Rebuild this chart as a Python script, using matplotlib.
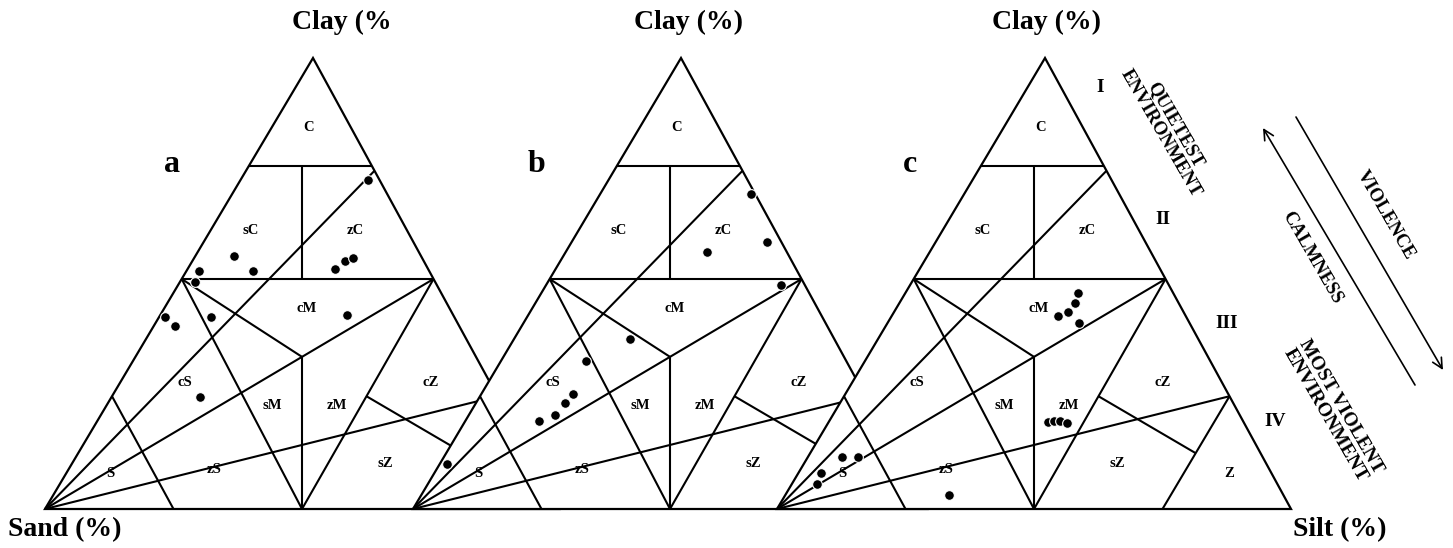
import matplotlib
matplotlib.use("Agg")
import matplotlib.pyplot as plt
from matplotlib.patches import Polygon

W_PX, H_PX = 1453, 548
plt.rcParams['font.family'] = ['Liberation Serif', 'DejaVu Serif']

# ---------------- data (percent) ----------------
panel_names = ['a', 'b', 'c']

a_sand = [2.2, 36.5, 44.7, 34.3, 18.2, 15.4, 13.4, 46.7, 56.3, 55.2, 47.3, 20.7, 57.9]
a_silt = [24.9, 7.5, 2.5, 12.9, 28.6, 29.6, 31.0, 3.0, 1.1, 4.2, 10.1, 36.3, 17.2]
a_clay = [72.9, 56.0, 52.8, 52.8, 53.2, 55.0, 55.6, 50.3, 42.6, 40.6, 42.6, 43.0, 24.9]

b_sand = [0.8, 2.8, 15.6, 4.6, 39.8, 50.5, 56.7, 59.2, 62.4, 66.2, 88.6]
b_silt = [29.3, 38.1, 27.4, 45.8, 22.6, 16.6, 17.9, 17.3, 16.8, 14.3, 1.5]
b_clay = [69.9, 59.1, 57.0, 49.6, 37.6, 32.9, 25.4, 23.5, 20.8, 19.5, 9.9]

c_sand = [18.5, 20.1, 22.5, 24.9, 21.4, 38.0, 36.8, 35.6, 34.5, 81.8, 78.8, 87.6, 89.5, 65.1]
c_silt = [33.7, 34.2, 33.8, 32.4, 37.3, 42.8, 43.6, 44.8, 46.5, 6.7, 9.7, 4.4, 4.9, 31.8]
c_clay = [47.8, 45.7, 43.7, 42.7, 41.3, 19.2, 19.6, 19.6, 19.0, 11.5, 11.5, 8.0, 5.6, 3.1]

samples = {'a': (a_sand, a_silt, a_clay),
           'b': (b_sand, b_silt, b_clay),
           'c': (c_sand, c_silt, c_clay)}

# class boundaries (percent)
clay_levels = [76, 51]            # horizontal clay lines
ray_clay_ends = [75, 51, 25]      # rays from sand apex ending on clay-silt side
sand_limit = 75
silt_limit = 75

region_labels = ['C', 'sC', 'zC', 'cM', 'cS', 'sM', 'zM', 'cZ', 'sZ', 'zS', 'S', 'Z']
region_pos = {'C': (0.513, 0.845), 'sC': (0.400, 0.617), 'zC': (0.603, 0.617),
              'cM': (0.509, 0.445), 'cS': (0.272, 0.281), 'sM': (0.442, 0.230),
              'zM': (0.567, 0.230), 'cZ': (0.751, 0.281), 'sZ': (0.662, 0.101),
              'zS': (0.329, 0.088), 'S': (0.127, 0.078), 'Z': (0.879, 0.078)}

# ---------------- layout ----------------
APEX = 268 / 514.0           # apex position along the base
tri_left_px = [45, 413, 777]
BASE_Y_PX = 509
TRI_W_PX, TRI_H_PX = 514, 451


def to_xy(sand, silt, clay):
    s = sand + silt + clay
    return (silt + APEX * clay) / s, clay / s


def seg(ax, p, q, lw=1.5, z=3):
    ax.plot([p[0], q[0]], [p[1], q[1]], color='black', lw=lw,
            solid_capstyle='butt', clip_on=False, zorder=z)


fig = plt.figure(figsize=(W_PX / 100, H_PX / 100), dpi=100)
fig.patch.set_facecolor('white')

for i, name in enumerate(panel_names):
    ax = fig.add_axes([tri_left_px[i] / W_PX, (H_PX - BASE_Y_PX) / H_PX,
                       TRI_W_PX / W_PX, TRI_H_PX / H_PX], zorder=2 + i)
    ax.set_xlim(0, 1)
    ax.set_ylim(0, 1)
    ax.axis('off')
    ax.patch.set_alpha(0)
    L, R, T = to_xy(100, 0, 0), to_xy(0, 100, 0), to_xy(0, 0, 100)
    ax.add_patch(Polygon([L, R, T], closed=True, facecolor='white',
                         edgecolor='black', lw=1.6, zorder=1, clip_on=False))
    # horizontal clay lines
    for c in clay_levels:
        seg(ax, to_xy(100 - c, 0, c), to_xy(0, 100 - c, c))
    c_hi, c_lo = clay_levels[0] / 100, clay_levels[1] / 100
    seg(ax, (0.5, c_lo), (0.5, c_hi))
    # rays from sand apex
    for c in ray_clay_ends:
        seg(ax, L, to_xy(0, 100 - c, c))
    # lines from clay-50 corners to base middle
    left50 = to_xy(100 - clay_levels[1], 0, clay_levels[1])
    right50 = to_xy(0, 100 - clay_levels[1], clay_levels[1])
    mid = to_xy(50, 50, 0)
    seg(ax, left50, mid)
    seg(ax, right50, mid)
    # centre point: ray (clay 51) meets vertical middle
    rx, ry = right50
    P = (0.5, ry * 0.5 / rx)
    seg(ax, left50, P)
    seg(ax, P, mid)
    # sand 75 and silt 75 lines
    seg(ax, to_xy(sand_limit, 100 - sand_limit, 0), to_xy(sand_limit, 0, 100 - sand_limit))
    z0 = to_xy(100 - silt_limit, silt_limit, 0)
    z1 = to_xy(0, silt_limit, 100 - silt_limit)
    seg(ax, z0, z1)
    # sZ / cZ boundary: from line (right50-mid) at clay 25 toward silt apex, ending on silt-75 line
    yq = ray_clay_ends[2] / 100
    Q = (mid[0] + (rx - mid[0]) * yq / ry, yq)
    dx, dy = R[0] - Q[0], R[1] - Q[1]
    sx, sy = z1[0] - z0[0], z1[1] - z0[1]
    t = ((z0[0] - Q[0]) * sy - (z0[1] - Q[1]) * sx) / (dx * sy - dy * sx)
    seg(ax, Q, (Q[0] + t * dx, Q[1] + t * dy))
    # region labels
    for lab in region_labels:
        px, py = region_pos[lab]
        ax.text(px, py, lab, ha='center', va='center', fontsize=10.5,
                fontweight='bold', zorder=2)
    # samples
    s_, z_, c_ = samples[name]
    pts = [to_xy(a, b, c) for a, b, c in zip(s_, z_, c_)]
    ax.plot([p[0] for p in pts], [p[1] for p in pts], 'o', color='black',
            ms=7, mec='white', mew=0.8, zorder=5, clip_on=False)

# ---------------- overlay text ----------------
ov = fig.add_axes([0, 0, 1, 1], zorder=20)
ov.set_xlim(0, W_PX)
ov.set_ylim(H_PX, 0)
ov.axis('off')
ov.patch.set_alpha(0)

tfont = dict(fontsize=20, fontweight='bold')
ov.text(292, 22, 'Clay (%', ha='left', va='center', **tfont)
ov.text(688, 22, 'Clay (%)', ha='center', va='center', **tfont)
ov.text(1046, 22, 'Clay (%)', ha='center', va='center', **tfont)
ov.text(8, 530, 'Sand (%)', ha='left', va='center', **tfont)
ov.text(1340, 530, 'Silt (%)', ha='center', va='center', **tfont)

for name, (px, py) in zip(panel_names, [(172, 164), (537, 164), (910, 164)]):
    ov.text(px, py, name, ha='center', va='center', fontsize=23, fontweight='bold')

romans = ['I', 'II', 'III', 'IV']
roman_pos = [(1100, 88), (1163, 219), (1227, 323), (1275, 421)]
for r, (px, py) in zip(romans, roman_pos):
    ov.text(px, py, r, ha='center', va='center', fontsize=14, fontweight='bold')

rot = -60
ov.text(1168, 129, 'QUIETEST\nENVIRONMENT', ha='center', va='center', rotation=rot,
        rotation_mode='anchor', multialignment='center', fontsize=13.5,
        fontweight='bold', linespacing=1.0)
ov.text(1333, 411, 'MOST VIOLENT\nENVIRONMENT', ha='center', va='center', rotation=rot,
        rotation_mode='anchor', multialignment='center', fontsize=14,
        fontweight='bold', linespacing=1.0)
ov.text(1312, 258, 'CALMNESS', ha='center', va='center', rotation=rot,
        rotation_mode='anchor', fontsize=13.5, fontweight='bold')
ov.text(1386, 215, 'VIOLENCE', ha='center', va='center', rotation=rot,
        rotation_mode='anchor', fontsize=13.5, fontweight='bold')

ov.annotate('', xy=(1263, 128), xytext=(1415, 385),
            arrowprops=dict(arrowstyle='->', lw=1.2, color='black',
                            mutation_scale=18, shrinkA=0, shrinkB=0))
ov.annotate('', xy=(1443, 370), xytext=(1296, 117),
            arrowprops=dict(arrowstyle='->', lw=1.2, color='black',
                            mutation_scale=18, shrinkA=0, shrinkB=0))

fig.savefig('out.png', dpi=100, facecolor='white')
